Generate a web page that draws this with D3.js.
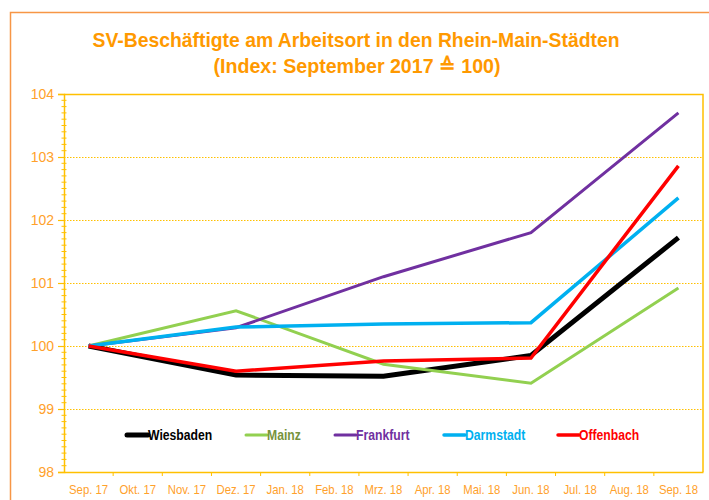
<!DOCTYPE html>
<html><head><meta charset="utf-8">
<script src="https://cdn.jsdelivr.net/npm/d3@7"></script>
<style>body{margin:0;background:#fff;} svg{display:block;}</style>
</head><body>
<script>
const months = ["Sep. 17","Okt. 17","Nov. 17","Dez. 17","Jan. 18","Feb. 18","Mrz. 18","Apr. 18","Mai. 18","Jun. 18","Jul. 18","Aug. 18","Sep. 18"];
const dataMonths = ["Sep. 17","Dez. 17","Mrz. 18","Jun. 18","Sep. 18"];
const wiesbaden = [100, 99.54, 99.52, 99.85, 101.72];
const mainz     = [100, 100.56, 99.71, 99.41, 100.92];
const frankfurt = [100, 100.29, 101.1, 101.8, 103.7];
const darmstadt = [100, 100.30, 100.35, 100.37, 102.35];
const offenbach = [100, 99.60, 99.76, 99.81, 102.86];
const yTicks = [98, 99, 100, 101, 102, 103, 104];
const seriesNames = ["Wiesbaden","Mainz","Frankfurt","Darmstadt","Offenbach"];

const series = [
  {name:seriesNames[0], values:wiesbaden, color:"#000000", text:"#000000", w:5},
  {name:seriesNames[1], values:mainz, color:"#92D050", text:"#77933C", w:3},
  {name:seriesNames[2], values:frankfurt, color:"#7030A0", text:"#7030A0", w:3},
  {name:seriesNames[3], values:darmstadt, color:"#00B0F0", text:"#00B0F0", w:3.5},
  {name:seriesNames[4], values:offenbach, color:"#FF0000", text:"#FF0000", w:3.5}
];

const W=709, H=500;
const L=64, R=703, T=94, B=472;
const axisCol="#FFC000", labCol="#FFA12B", titleCol="#FF9900";
const FONT="Liberation Sans, Arial, sans-serif";

function condense(sel, ratio){
  sel.each(function(){
    const w=this.getComputedTextLength();
    d3.select(this).attr("textLength",w*ratio).attr("lengthAdjust","spacingAndGlyphs");
  });
}

const svg=d3.select("body").append("svg").attr("width",W).attr("height",H);
svg.append("rect").attr("width",W).attr("height",H).attr("fill","#fff");
svg.append("path").attr("d",`M10.5,${H+5}V12.5H${W+5}`).attr("fill","none").attr("stroke","#F79646").attr("stroke-width",1.5);

const x=d3.scaleBand().domain(months).range([L,R]);
const y=d3.scaleLinear().domain([98,104]).range([B,T]);

svg.append("g").selectAll("line").data(yTicks.filter(d=>d>98&&d<104)).join("line")
  .attr("x1",L).attr("x2",R).attr("y1",d=>y(d)+0.5).attr("y2",d=>y(d)+0.5)
  .attr("stroke",axisCol).attr("stroke-width",1).attr("stroke-dasharray","1.5,1.5");
svg.append("path").attr("d",`M${L},${T+0.5}H${R}V${B}`).attr("fill","none").attr("stroke",axisCol).attr("stroke-width",1.5);

const yAxis=d3.axisLeft(y).tickValues(yTicks).tickSize(6).tickPadding(4).tickFormat(d3.format("d"));
const ya=svg.append("g").attr("transform",`translate(${L},0)`).call(yAxis);
ya.select(".domain").attr("stroke",axisCol).attr("stroke-width",1.5);
ya.selectAll(".tick line").attr("stroke",axisCol).attr("stroke-width",1.2);
ya.selectAll("text").attr("fill",labCol).attr("font-family",FONT).attr("font-size","14px");
const minor=d3.range(98,104.001,0.1).map(v=>+v.toFixed(1)).filter(v=>Math.abs(v-Math.round(v))>0.01);
svg.append("g").selectAll("line").data(minor).join("line")
  .attr("x1",L-2.5).attr("x2",L+2.5).attr("y1",d=>y(d)).attr("y2",d=>y(d))
  .attr("stroke",axisCol).attr("stroke-width",1);

const xa=svg.append("g").attr("transform",`translate(0,${B})`).call(d3.axisBottom(x).tickSize(0).tickPadding(12));
xa.select(".domain").attr("stroke",axisCol).attr("stroke-width",1.5);
xa.selectAll("text").attr("fill",labCol).attr("font-family",FONT).attr("font-size","13.5px");
condense(xa.selectAll("text"),0.84);
svg.append("g").selectAll("line").data(months.slice(1)).join("line")
  .attr("x1",d=>x(d)).attr("x2",d=>x(d)).attr("y1",B).attr("y2",B+4)
  .attr("stroke",axisCol).attr("stroke-width",1);

const line=d3.line().x((d,i)=>x(dataMonths[i])+x.bandwidth()/2).y(d=>y(d));
series.forEach(s=>{
  svg.append("path").datum(s.values).attr("d",line).attr("fill","none")
    .attr("stroke",s.color).attr("stroke-width",s.w).attr("stroke-linejoin","miter");
});

const legX=[127,246,335,444,558];
const legY=435;
series.forEach((s,i)=>{
  const g=svg.append("g").attr("transform",`translate(${legX[i]},${legY})`);
  g.append("line").attr("x1",0).attr("x2",21).attr("y1",0).attr("y2",0).attr("stroke",s.color).attr("stroke-width",s.w).attr("stroke-linecap","round");
  const t=g.append("text").attr("x",21).attr("y",5).attr("fill",s.text).attr("font-family",FONT).attr("font-weight","bold").attr("font-size","14px").text(s.name);
  condense(t,0.87);
});

svg.append("text").attr("x",356).attr("y",47).attr("text-anchor","middle").attr("fill",titleCol)
  .attr("font-family",FONT).attr("font-weight","bold").attr("font-size","21px")
  .attr("textLength",527).attr("lengthAdjust","spacingAndGlyphs")
  .text("SV-Beschäftigte am Arbeitsort in den Rhein-Main-Städten");
svg.append("text").attr("x",357).attr("y",73).attr("text-anchor","middle").attr("fill",titleCol)
  .attr("font-family",FONT).attr("font-weight","bold").attr("font-size","21px")
  .attr("textLength",287).attr("lengthAdjust","spacingAndGlyphs")
  .text("(Index: September 2017 \u2259 100)");
</script>
</body></html>
